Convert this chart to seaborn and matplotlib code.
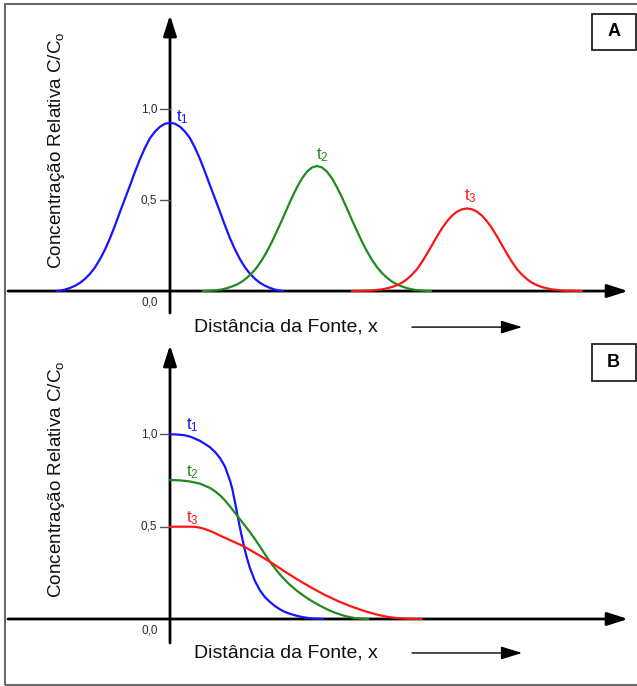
import matplotlib
matplotlib.use("Agg")
import matplotlib.pyplot as plt
import seaborn as sns
import pandas as pd
from matplotlib.patches import Rectangle

# ---------------- data ----------------
times = ["t1", "t2", "t3"]
time_labels = ["t$_1$", "t$_2$", "t$_3$"]
colors = ["#1414ff", "#1f8a1f", "#ff1414"]

# Panel A: pulse source, relative concentration vs distance
a_t1_x = [-1.13, -1.1, -1.05, -1.0, -0.95, -0.9, -0.85, -0.8, -0.75, -0.7, -0.65, -0.6,
          -0.55, -0.5, -0.45, -0.4, -0.35, -0.3, -0.25, -0.2, -0.15, -0.1, -0.05, 0.0,
          0.05, 0.1, 0.15, 0.2, 0.25, 0.3, 0.35, 0.4, 0.45, 0.5, 0.55, 0.6,
          0.65, 0.7, 0.75, 0.8, 0.85, 0.9, 0.95, 1.0, 1.05, 1.1, 1.13]
a_t1_c = [0.0, 0.002, 0.008, 0.017, 0.029, 0.045, 0.067, 0.095, 0.13, 0.175, 0.228, 0.29,
          0.36, 0.435, 0.508, 0.58, 0.655, 0.725, 0.787, 0.84, 0.876, 0.903, 0.919, 0.925,
          0.919, 0.903, 0.876, 0.84, 0.787, 0.725, 0.655, 0.58, 0.508, 0.435, 0.36, 0.29,
          0.228, 0.175, 0.13, 0.095, 0.067, 0.045, 0.029, 0.017, 0.008, 0.002, 0.0]
a_t2_x = [0.33, 0.40, 0.47, 0.52, 0.57, 0.62, 0.67, 0.72, 0.77, 0.82, 0.87, 0.92,
          0.97, 1.02, 1.07, 1.12, 1.17, 1.22, 1.27, 1.32, 1.37, 1.42, 1.47,
          1.52, 1.57, 1.62, 1.67, 1.72, 1.77, 1.82, 1.87, 1.92, 1.97, 2.02,
          2.07, 2.12, 2.17, 2.22, 2.27, 2.32, 2.37, 2.42, 2.47, 2.54, 2.61]
a_t2_c = [0.0, 0.002, 0.005, 0.009, 0.016, 0.025, 0.036, 0.052, 0.073, 0.099, 0.131, 0.171,
          0.218, 0.271, 0.33, 0.39, 0.453, 0.514, 0.57, 0.619, 0.656, 0.679, 0.687,
          0.679, 0.656, 0.619, 0.57, 0.514, 0.453, 0.39, 0.33, 0.271, 0.218, 0.171,
          0.131, 0.099, 0.073, 0.052, 0.036, 0.025, 0.016, 0.009, 0.005, 0.002, 0.0]
a_t3_x = [1.82, 1.90, 1.97, 2.02, 2.07, 2.12, 2.17, 2.22, 2.27, 2.32, 2.37, 2.42,
          2.47, 2.52, 2.57, 2.62, 2.67, 2.72, 2.77, 2.82, 2.87, 2.92, 2.97,
          3.02, 3.07, 3.12, 3.17, 3.22, 3.27, 3.32, 3.37, 3.42, 3.47, 3.52,
          3.57, 3.62, 3.67, 3.72, 3.77, 3.82, 3.87, 3.92, 3.97, 4.04, 4.12]
a_t3_c = [0.0, 0.001, 0.002, 0.003, 0.006, 0.009, 0.015, 0.022, 0.032, 0.046, 0.065, 0.09,
          0.12, 0.16, 0.205, 0.252, 0.30, 0.345, 0.383, 0.414, 0.436, 0.449, 0.454,
          0.449, 0.436, 0.414, 0.383, 0.345, 0.30, 0.252, 0.205, 0.16, 0.12, 0.09,
          0.065, 0.046, 0.032, 0.022, 0.015, 0.009, 0.006, 0.003, 0.002, 0.001, 0.0]

# Panel B: continuous source
b_t1_x = [0.0, 0.05, 0.1, 0.15, 0.2, 0.25, 0.3, 0.35, 0.4, 0.45, 0.5, 0.55, 0.6, 0.625,
          0.65, 0.675, 0.7, 0.725, 0.75, 0.775, 0.8, 0.85, 0.9, 0.95, 1.0, 1.05, 1.1,
          1.15, 1.2, 1.25, 1.3, 1.35, 1.4, 1.45, 1.533]
b_t1_c = [1.0, 1.0, 0.998, 0.995, 0.988, 0.977, 0.965, 0.948, 0.93, 0.905, 0.872, 0.825,
          0.75, 0.70, 0.632, 0.562, 0.493, 0.43, 0.37, 0.32, 0.275, 0.205, 0.155, 0.118,
          0.092, 0.07, 0.052, 0.038, 0.028, 0.02, 0.013, 0.008, 0.004, 0.002, 0.0]
b_t2_x = [0.0, 0.1, 0.2, 0.3, 0.4, 0.45, 0.5, 0.55, 0.6, 0.65, 0.7, 0.75, 0.8, 0.85,
          0.9, 0.95, 1.0, 1.05, 1.1, 1.15, 1.2, 1.25, 1.3, 1.35, 1.4, 1.45, 1.5, 1.55,
          1.6, 1.65, 1.7, 1.75, 1.8, 1.85, 1.9, 1.983]
b_t2_c = [0.753, 0.751, 0.745, 0.733, 0.71, 0.692, 0.67, 0.642, 0.61, 0.575, 0.54, 0.505,
          0.47, 0.432, 0.392, 0.35, 0.31, 0.274, 0.241, 0.211, 0.185, 0.161, 0.14, 0.121,
          0.103, 0.087, 0.072, 0.058, 0.045, 0.034, 0.025, 0.016, 0.01, 0.005, 0.002, 0.0]
b_t3_x = [0.0, 0.1, 0.2, 0.25, 0.3, 0.35, 0.4, 0.45, 0.5, 0.55, 0.61, 0.743, 0.87, 1.0,
          1.14, 1.283, 1.42, 1.55, 1.68, 1.817, 1.95, 2.083, 2.18, 2.283, 2.4, 2.517]
b_t3_c = [0.5, 0.5, 0.5, 0.499, 0.495, 0.487, 0.477, 0.465, 0.452, 0.44, 0.425, 0.392,
          0.352, 0.31, 0.26, 0.211, 0.168, 0.13, 0.097, 0.067, 0.042, 0.022, 0.011, 0.004,
          0.001, 0.0]

y_ticks = [1.0, 0.5]
y_tick_labels = ["1,0", "0,5"]
zero_label = "0,0"
ylabel = "Concentração Relativa C/C$_\\mathregular{o}$"
xlabel = "Distância da Fonte, x"
panel_names = ["A", "B"]

# ---------------- style ----------------
sns.set_theme(style="white")
plt.rcParams["font.family"] = ["Liberation Sans", "DejaVu Sans"]
plt.rcParams["mathtext.fontset"] = "custom"
plt.rcParams["mathtext.rm"] = "Liberation Sans"
plt.rcParams["mathtext.it"] = "Liberation Sans"
plt.rcParams["mathtext.bf"] = "Liberation Sans:bold"

W, H = 637, 686
fig = plt.figure(figsize=(W / 100, H / 100), dpi=100)
fig.patch.set_facecolor("white")


def frac(px, py):
    return px / W, 1 - py / H


def make_df(xs_list, cs_list):
    rows = []
    for t, xs, cs in zip(times, xs_list, cs_list):
        for x, c in zip(xs, cs):
            rows.append({"x": x, "C": c, "t": t})
    return pd.DataFrame(rows)


def draw_panel(ax, df, ylim, yx_bottom, yx_top, label_pos, ylab_v, xlab_v):
    ax.set_xlim(-1.70, 4.67)
    ax.set_ylim(*ylim)
    ax.axis("off")
    arrow_kw = dict(arrowstyle="-|>,head_length=1.25,head_width=0.4",
                    lw=2.0, color="black", mutation_scale=10, shrinkA=0, shrinkB=0)
    ax.annotate("", xy=(0, yx_top), xytext=(0, yx_bottom), arrowprops=arrow_kw, zorder=2)
    ax.annotate("", xy=(4.58, 0), xytext=(-1.62, 0), arrowprops=arrow_kw, zorder=2)
    # ticks
    for v, lab in zip(y_ticks, y_tick_labels):
        ax.plot([-0.10, 0], [v, v], color="#555555", lw=1.0, zorder=2)
        ax.text(-0.125, v, lab, ha="right", va="center", fontsize=8.5, color="#2a2a2a")
    ax.text(-0.20, -0.062, zero_label, ha="center", va="center", fontsize=8.5, color="#2a2a2a")
    # curves
    sns.lineplot(data=df, x="x", y="C", hue="t", palette=dict(zip(times, colors)),
                 estimator=None, sort=False, legend=False, lw=1.6, ax=ax, zorder=3)
    for (lx, ly), lab, col in zip(label_pos, time_labels, colors):
        ax.text(lx, ly, lab, ha="center", va="center", fontsize=12, color=col)
    # labels
    ax.text(-1.13, ylab_v, ylabel, rotation=90, ha="center", va="center", fontsize=13.6,
            color="#111111")
    ax.text(0.245, xlab_v, xlabel, ha="left", va="center", fontsize=14, color="#111111")
    ax.annotate("", xy=(3.52, xlab_v), xytext=(2.42, xlab_v),
                arrowprops=dict(arrowstyle="-|>,head_length=1.3,head_width=0.4",
                                lw=1.0, color="black", mutation_scale=10,
                                shrinkA=0, shrinkB=0))


# Panel A axes: figure px y 0..330
axA = fig.add_axes([0, 1 - 330 / H, 1, 330 / H])
dfA = make_df([a_t1_x, a_t2_x, a_t3_x], [a_t1_c, a_t2_c, a_t3_c])
draw_panel(axA, dfA, ylim=(-0.214, 1.599), yx_bottom=-0.121, yx_top=1.516,
           label_pos=[(0.12, 0.955), (1.52, 0.747), (3.0, 0.52)],
           ylab_v=0.775, xlab_v=-0.198)

# Panel B axes: figure px y 330..686
axB = fig.add_axes([0, 0, 1, 356 / H])
dfB = make_df([b_t1_x, b_t2_x, b_t3_x], [b_t1_c, b_t2_c, b_t3_c])
draw_panel(axB, dfB, ylim=(-0.363, 1.5655), yx_bottom=-0.13, yx_top=1.484,
           label_pos=[(0.22, 1.051), (0.22, 0.796), (0.22, 0.547)],
           ylab_v=0.76, xlab_v=-0.184)

# outer frame
x0, y0 = frac(5, 685)
x1, y1 = frac(645, 4)
fig.patches.append(Rectangle((x0, y0), x1 - x0, y1 - y0, transform=fig.transFigure,
                             fill=False, edgecolor="#6a6a6a", lw=1.5, clip_on=False))

# panel letter boxes
for name, (bx0, by0, bx1, by1) in zip(panel_names, [(592, 14, 635.5, 50), (592, 344, 635.5, 381)]):
    fx0, fy0 = frac(bx0, by1)
    fx1, fy1 = frac(bx1, by0)
    fig.patches.append(Rectangle((fx0, fy0), fx1 - fx0, fy1 - fy0, transform=fig.transFigure,
                                 fill=False, edgecolor="#222222", lw=1.3, clip_on=False))
    cx, cy = frac((bx0 + bx1) / 2, (by0 + by1) / 2)
    fig.text(cx, cy, name, ha="center", va="center", fontsize=13, fontweight="bold",
             color="black")

fig.savefig("out.png", dpi=100, facecolor="white")
